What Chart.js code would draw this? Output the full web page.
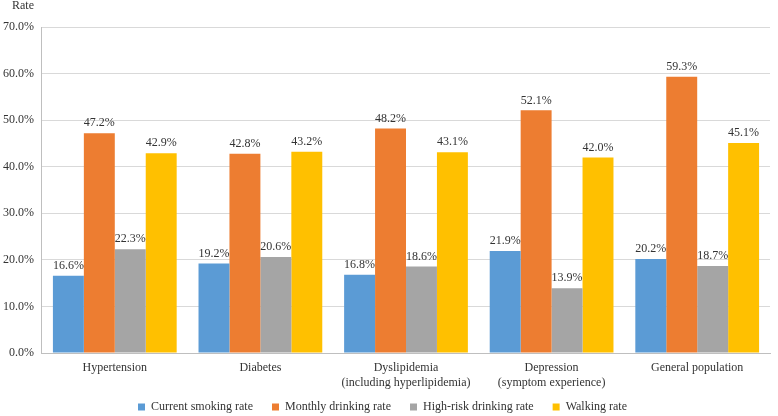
<!DOCTYPE html>
<html>
<head>
<meta charset="utf-8">
<script src="https://cdn.jsdelivr.net/npm/chart.js@4.4.0/dist/chart.umd.min.js"></script>
<style>
  html, body { margin: 0; padding: 0; background: #fff; }
</style>
</head>
<body>
<canvas id="rateChart" width="778" height="416"></canvas>
<script>
const categories = [
  "Hypertension",
  "Diabetes",
  ["Dyslipidemia", "(including hyperlipidemia)"],
  ["Depression", "(symptom experience)"],
  "General population"
];
const smokingRate = [16.6, 19.2, 16.8, 21.9, 20.2];
const monthlyDrinking = [47.2, 42.8, 48.2, 52.1, 59.3];
const highRiskDrinking = [22.3, 20.6, 18.6, 13.9, 18.7];
const walkingRate = [42.9, 43.2, 43.1, 42.0, 45.1];

const serif = "'Liberation Serif', 'Times New Roman', serif";

// подписи над столбцами + заголовок оси
const barLabels = {
  id: "barLabels",
  afterDatasetsDraw(chart) {
    const ctx = chart.ctx;
    ctx.save();
    ctx.font = "12px " + serif;
    ctx.fillStyle = "#333";
    ctx.textAlign = "center";
    ctx.textBaseline = "bottom";
    chart.data.datasets.forEach((ds, i) => {
      chart.getDatasetMeta(i).data.forEach((bar, j) => {
        ctx.fillText(ds.data[j].toFixed(1) + "%", bar.x, bar.y - 4);
      });
    });
    ctx.textAlign = "left";
    ctx.textBaseline = "top";
    ctx.fillText("Rate", 12, 0);
    ctx.restore();
  }
};

new Chart(document.getElementById("rateChart"), {
  type: "bar",
  data: {
    labels: categories,
    datasets: [
      { label: "Current smoking rate", data: smokingRate, backgroundColor: "#5B9BD5" },
      { label: "Monthly drinking rate", data: monthlyDrinking, backgroundColor: "#ED7D31" },
      { label: "High-risk drinking rate", data: highRiskDrinking, backgroundColor: "#A5A5A5" },
      { label: "Walking rate", data: walkingRate, backgroundColor: "#FFC000" }
    ]
  },
  options: {
    responsive: false,
    animation: false,
    layout: { padding: { top: 27, right: 8, left: -5, bottom: -7 } },
    datasets: { bar: { categoryPercentage: 0.85, barPercentage: 1.0 } },
    plugins: {
      tooltip: { enabled: false },
      legend: {
        position: "bottom",
        labels: {
          font: { family: serif, size: 12 },
          color: "#333",
          boxWidth: 7,
          boxHeight: 7,
          padding: 4,
          // лишние пробелы = шире промежуток между пунктами
          generateLabels(chart) {
            const items = Chart.defaults.plugins.legend.labels.generateLabels(chart);
            items.forEach((it, i) => { if (i < items.length - 1) it.text += "     "; });
            return items;
          }
        }
      }
    },
    scales: {
      x: {
        grid: { display: false, drawTicks: false },
        border: { color: "#BFBFBF" },
        ticks: { padding: 7, font: { family: serif, size: 12, lineHeight: 1.25 }, color: "#333", maxRotation: 0, autoSkip: false }
      },
      y: {
        min: 0,
        max: 70,
        ticks: {
          stepSize: 10,
          padding: 8,
          font: { family: serif, size: 12 },
          color: "#333",
          callback: v => v.toFixed(1) + "%"
        },
        grid: { color: "#D9D9D9", drawTicks: false },
        border: { color: "#BFBFBF", display: true }
      }
    }
  },
  plugins: [barLabels]
});
</script>
</body>
</html>
